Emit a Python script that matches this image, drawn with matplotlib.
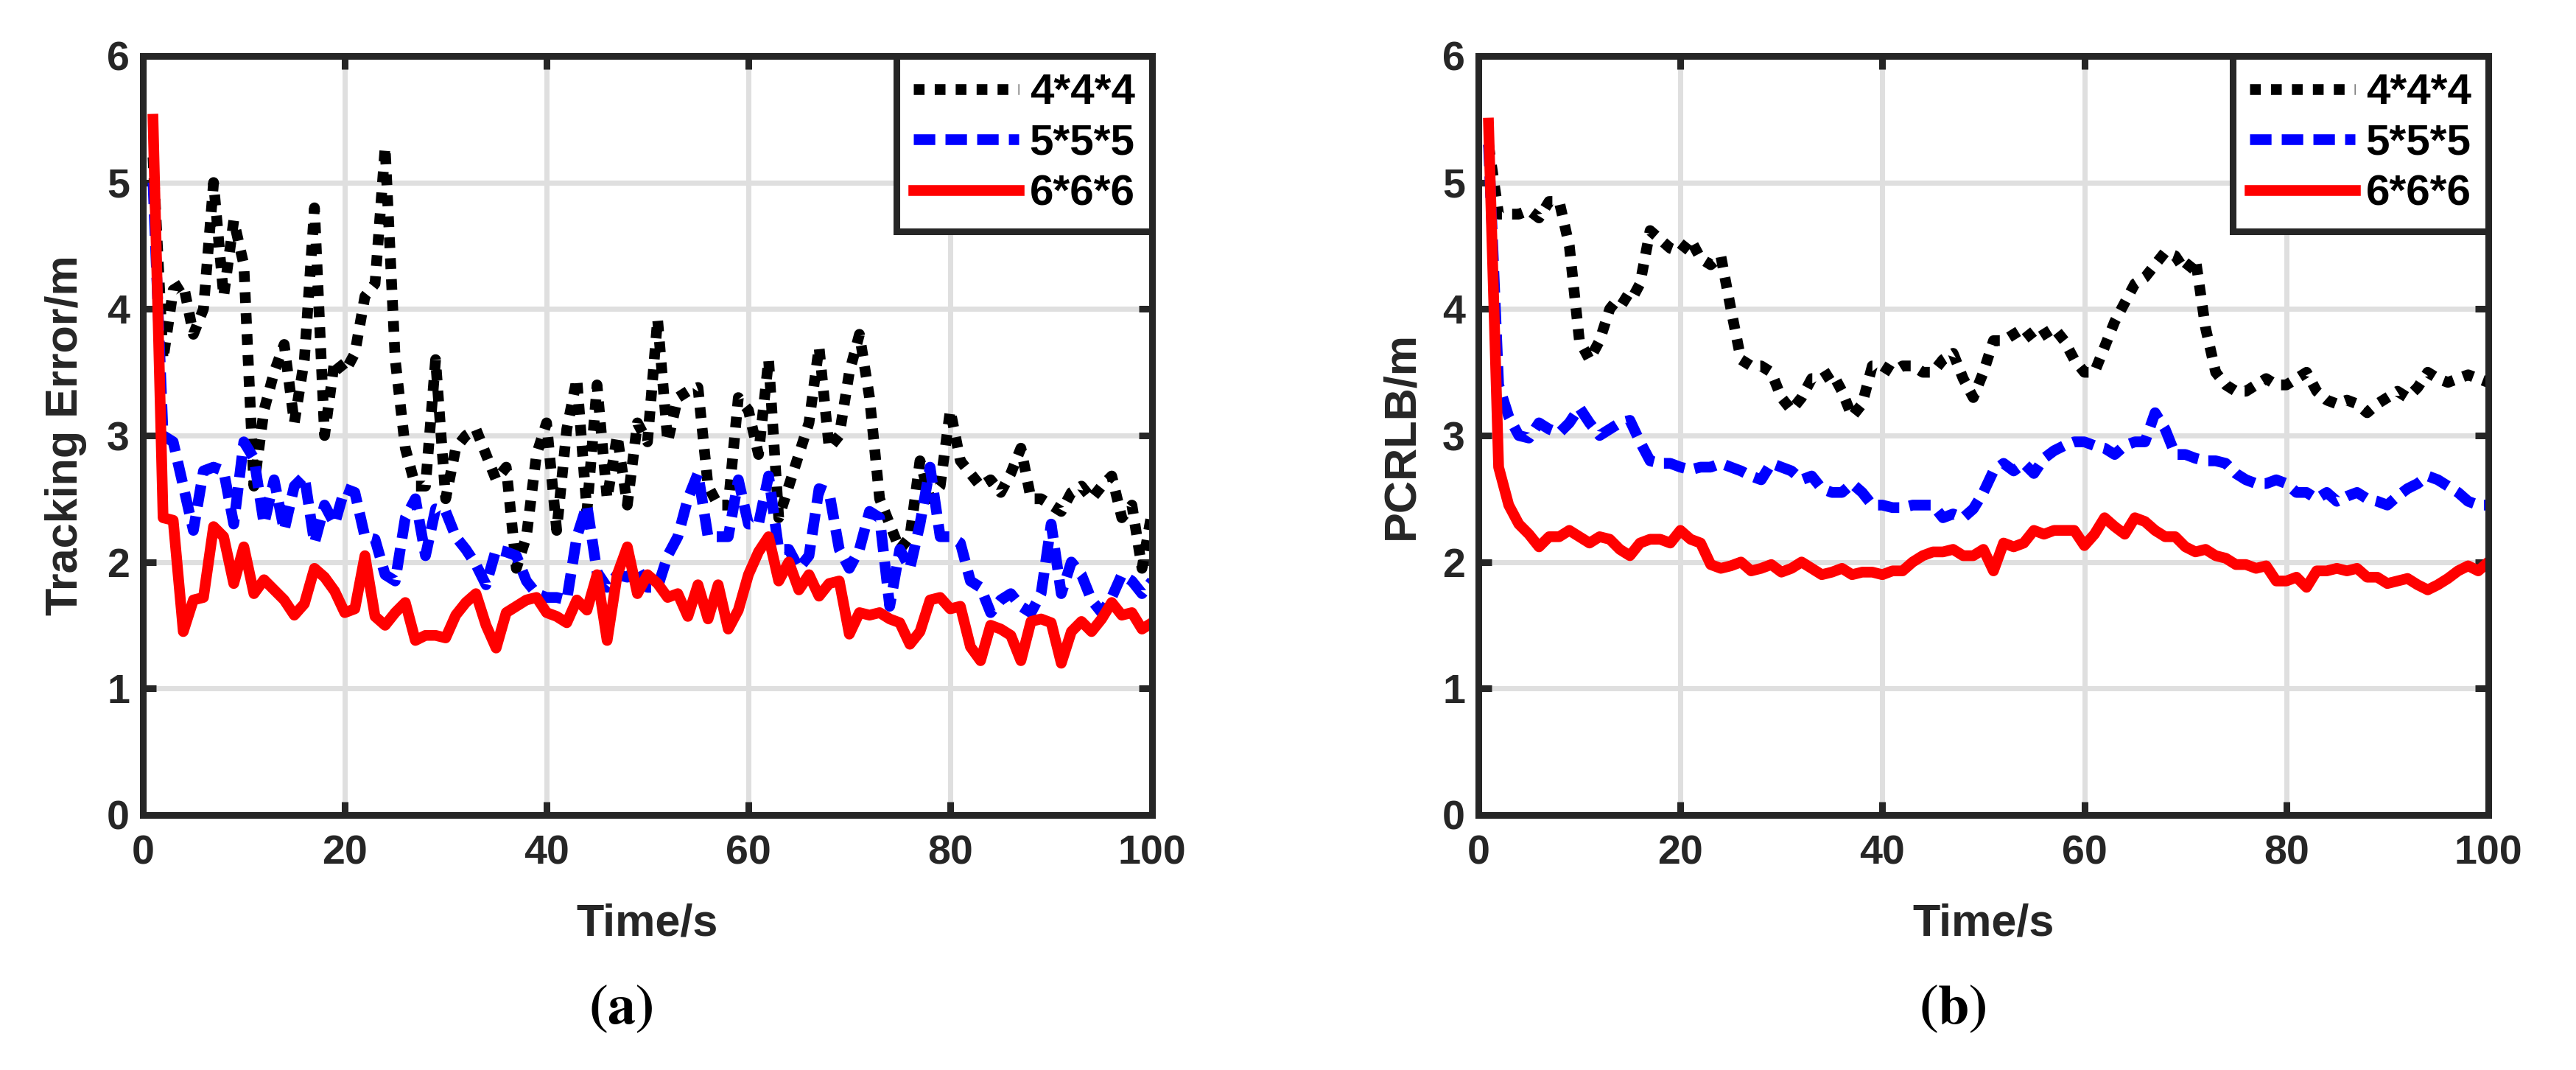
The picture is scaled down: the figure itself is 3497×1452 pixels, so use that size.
import matplotlib
matplotlib.use("Agg")
import matplotlib.pyplot as plt
import numpy as np

plt.rcParams['font.family'] = ['Liberation Sans', 'DejaVu Sans']
plt.rcParams['font.weight'] = 'bold'
plt.rcParams['mathtext.fontset'] = 'stix'

# time axis (s)
time_s = np.arange(1, 101)

# (a) tracking error, m
err_444 = [5.2, 3.6, 4.15, 4.2, 3.8, 4.0, 5.0, 4.1, 4.7, 4.35,
           2.6, 3.2, 3.5, 3.72, 3.1, 3.6, 4.8, 3.0, 3.6, 3.5,
           3.65, 4.1, 4.2, 5.28, 3.6, 2.9, 2.6, 2.6, 3.6, 2.5,
           2.9, 3.0, 3.05, 2.85, 2.65, 2.75, 1.95, 2.2, 2.85, 3.1,
           2.25, 3.05, 3.45, 2.4, 3.4, 2.5, 3.0, 2.45, 3.1, 2.95,
           3.92, 2.95, 3.3, 3.35, 3.38, 2.6, 2.45, 2.45, 3.3, 3.2,
           2.85, 3.6, 2.35, 2.6, 2.85, 3.1, 3.7, 2.9, 3.0, 3.5,
           3.8, 3.3, 2.5, 2.3, 2.1, 2.2, 2.8, 2.5, 2.6, 3.2,
           2.8, 2.7, 2.6, 2.65, 2.55, 2.7, 2.9, 2.5, 2.5, 2.45,
           2.4, 2.55, 2.6, 2.5, 2.6, 2.68, 2.35, 2.45, 1.95, 2.4]
err_555 = [5.0, 3.0, 2.95, 2.6, 2.25, 2.72, 2.75, 2.72, 2.3, 2.95,
           2.82, 2.3, 2.65, 2.25, 2.6, 2.68, 2.15, 2.45, 2.3, 2.58,
           2.55, 2.2, 2.18, 1.9, 1.85, 2.35, 2.5, 2.05, 2.42, 2.4,
           2.2, 2.1, 1.98, 1.82, 2.1, 2.08, 2.05, 1.85, 1.75, 1.72,
           1.72, 1.7, 2.2, 2.45, 1.92, 1.8, 1.9, 1.88, 1.95, 1.8,
           1.8, 2.05, 2.2, 2.5, 2.7, 2.2, 2.2, 2.2, 2.65, 2.3,
           2.3, 2.68, 2.1, 2.1, 1.95, 2.05, 2.58, 2.55, 2.1, 1.95,
           2.1, 2.4, 2.35, 1.65, 2.1, 1.95, 2.3, 2.75, 2.2, 2.2,
           2.15, 1.85, 1.8, 1.6, 1.7, 1.75, 1.65, 1.6, 1.75, 2.3,
           1.75, 2.0, 1.9, 1.7, 1.6, 1.72, 1.9, 1.85, 1.75, 1.85]
err_666 = [5.5, 2.35, 2.33, 1.45, 1.7, 1.72, 2.28, 2.2, 1.83, 2.12,
           1.75, 1.86, 1.78, 1.7, 1.58, 1.67, 1.95, 1.88, 1.77, 1.6,
           1.63, 2.05, 1.57, 1.5, 1.6, 1.68, 1.38, 1.42, 1.42, 1.4,
           1.58, 1.68, 1.75, 1.5, 1.32, 1.6, 1.65, 1.7, 1.72, 1.6,
           1.57, 1.52, 1.7, 1.62, 1.9, 1.38, 1.9, 2.12, 1.75, 1.9,
           1.83, 1.72, 1.75, 1.57, 1.82, 1.55, 1.82, 1.47, 1.62, 1.9,
           2.08, 2.2, 1.85, 2.0, 1.78, 1.9, 1.73, 1.83, 1.85, 1.43,
           1.6, 1.58, 1.6, 1.55, 1.52, 1.35, 1.45, 1.7, 1.72, 1.63,
           1.65, 1.33, 1.22, 1.5, 1.47, 1.42, 1.22, 1.53, 1.55, 1.52,
           1.2, 1.45, 1.53, 1.45, 1.55, 1.68, 1.58, 1.6, 1.47, 1.52]

# (b) PCRLB, m
crlb_444 = [5.3, 4.75, 4.75, 4.75, 4.78, 4.72, 4.85, 4.85, 4.5, 3.75,
            3.6, 3.75, 4.0, 4.1, 4.05, 4.2, 4.62, 4.55, 4.48, 4.45,
            4.55, 4.4, 4.35, 4.42, 4.0, 3.6, 3.55, 3.55, 3.5, 3.3,
            3.2, 3.3, 3.45, 3.45, 3.5, 3.35, 3.15, 3.25, 3.55, 3.55,
            3.5, 3.55, 3.55, 3.5, 3.5, 3.6, 3.65, 3.45, 3.3, 3.5,
            3.75, 3.75, 3.8, 3.85, 3.75, 3.8, 3.85, 3.75, 3.6, 3.5,
            3.5, 3.7, 3.9, 4.05, 4.2, 4.25, 4.35, 4.45, 4.42, 4.3,
            4.4, 3.85, 3.5, 3.4, 3.35, 3.35, 3.4, 3.45, 3.4, 3.4,
            3.45, 3.5, 3.35, 3.28, 3.25, 3.28, 3.25, 3.18, 3.25, 3.3,
            3.35, 3.3, 3.38, 3.5, 3.45, 3.42, 3.45, 3.48, 3.45, 3.42]
crlb_555 = [5.3, 3.4, 3.15, 3.0, 2.98, 3.1, 3.05, 3.02, 3.1, 3.22,
            3.1, 3.0, 3.05, 3.1, 3.12, 2.95, 2.8, 2.78, 2.78, 2.75,
            2.73, 2.75, 2.75, 2.78, 2.75, 2.72, 2.68, 2.65, 2.78, 2.75,
            2.72, 2.65, 2.68, 2.58, 2.55, 2.55, 2.62, 2.55, 2.45, 2.45,
            2.43, 2.43, 2.45, 2.45, 2.45, 2.35, 2.38, 2.35, 2.42, 2.55,
            2.72, 2.78, 2.72, 2.78, 2.7, 2.82, 2.88, 2.92, 2.95, 2.95,
            2.92, 2.9, 2.85, 2.92, 2.95, 2.95, 3.18, 3.05, 2.85, 2.85,
            2.82, 2.8, 2.8, 2.78, 2.7, 2.65, 2.62, 2.62, 2.65, 2.62,
            2.55, 2.55, 2.5, 2.55, 2.48, 2.52, 2.55, 2.5, 2.48, 2.45,
            2.52, 2.58, 2.62, 2.68, 2.65, 2.6, 2.55, 2.48, 2.45, 2.45]
crlb_666 = [5.47, 2.75, 2.45, 2.3, 2.22, 2.12, 2.2, 2.2, 2.25, 2.2,
            2.15, 2.2, 2.18, 2.1, 2.05, 2.15, 2.18, 2.18, 2.15, 2.25,
            2.18, 2.15, 1.98, 1.95, 1.97, 2.0, 1.93, 1.95, 1.98, 1.92,
            1.95, 2.0, 1.95, 1.9, 1.92, 1.95, 1.9, 1.92, 1.92, 1.9,
            1.93, 1.93, 2.0, 2.05, 2.08, 2.08, 2.1, 2.05, 2.05, 2.1,
            1.93, 2.15, 2.12, 2.15, 2.25, 2.22, 2.25, 2.25, 2.25, 2.13,
            2.22, 2.35, 2.28, 2.22, 2.35, 2.32, 2.25, 2.2, 2.2, 2.12,
            2.08, 2.1, 2.05, 2.03, 1.98, 1.98, 1.95, 1.97, 1.85, 1.85,
            1.88, 1.8, 1.93, 1.93, 1.95, 1.93, 1.95, 1.88, 1.88, 1.83,
            1.85, 1.87, 1.82, 1.78, 1.82, 1.87, 1.93, 1.97, 1.93, 2.0]

labels = ['4*4*4', '5*5*5', '6*6*6']
x_ticks = [0, 20, 40, 60, 80, 100]
y_ticks = [0, 1, 2, 3, 4, 5, 6]

W, H = 3498, 1452
DARK = '#262626'
LW = 10.5

fig = plt.figure(figsize=(W / 100, H / 100), dpi=100)


def px_axes(x0, x1, y0, y1):
    return fig.add_axes([x0 / W, 1 - y1 / H, (x1 - x0) / W, (y1 - y0) / H])


def style_axes(ax, ylabel):
    ax.set_xlim(0, 100)
    ax.set_ylim(0, 6)
    ax.set_xticks(x_ticks)
    ax.set_yticks(y_ticks)
    ax.grid(True, color='#dfdfdf', linewidth=5)
    ax.set_axisbelow(True)
    for s in ax.spines.values():
        s.set_linewidth(6.5)
        s.set_color(DARK)
    ax.tick_params(axis='both', which='major', direction='in', length=13,
                   width=6.5, color=DARK, labelcolor=DARK, labelsize=40,
                   top=True, right=True)
    ax.tick_params(axis='y', pad=13)
    ax.tick_params(axis='x', pad=19)
    for t in ax.get_xticklabels() + ax.get_yticklabels():
        t.set_fontweight('bold')
    ax.set_xlabel('Time/s', fontsize=44, fontweight='bold', color=DARK,
                  va='center')
    ax.xaxis.set_label_coords(0.5, -0.1437)
    ax.set_ylabel(ylabel, fontsize=44, fontweight='bold', color=DARK,
                  va='center')
    ax.yaxis.set_label_coords(-0.076, 0.5)
    leg = ax.legend(loc='upper right', bbox_to_anchor=(1, 1), borderaxespad=0,
                    fancybox=False, framealpha=1, edgecolor=DARK,
                    prop={'family': 'Liberation Sans', 'weight': 'bold', 'size': 42},
                    borderpad=0.4, labelspacing=0.25, handlelength=2.45,
                    handletextpad=0.25)
    leg.get_frame().set_linewidth(6.5)


def draw(ax, y4, y5, y6):
    ax.plot(time_s, y4, color='black', linewidth=LW, linestyle=(0, (1, 0.95)),
            label=labels[0])
    ax.plot(time_s, y5, color='#0000ff', linewidth=LW, linestyle=(0, (2, 0.95)),
            label=labels[1])
    ax.plot(time_s, y6, color='#ff0000', linewidth=LW, linestyle='-',
            label=labels[2])


ax1 = px_axes(194, 1564, 76, 1106)
draw(ax1, err_444, err_555, err_666)
style_axes(ax1, 'Tracking Error/m')

ax2 = px_axes(2007, 3378, 76, 1106)
draw(ax2, crlb_444, crlb_555, crlb_666)
style_axes(ax2, 'PCRLB/m')

fig.text(843 / W, 1 - 1370 / H, r'$(\mathbf{a})$', fontsize=55,
         ha='center', va='center', color='black')
fig.text(2651 / W, 1 - 1370 / H, r'$(\mathbf{b})$', fontsize=55,
         ha='center', va='center', color='black')

fig.savefig('out.png', dpi=100)
